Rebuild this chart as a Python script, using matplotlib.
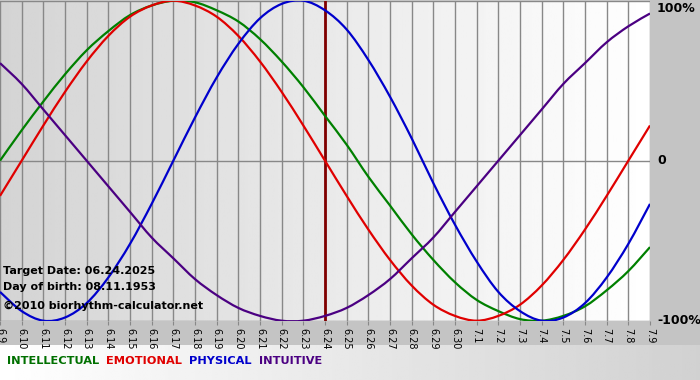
import matplotlib
matplotlib.use("Agg")
import matplotlib.pyplot as plt
from matplotlib.path import Path
from matplotlib.patches import PathPatch
import numpy as np

# day labels, 6.9 .. 7.9
days = ["6.9", "6.10", "6.11", "6.12", "6.13", "6.14", "6.15", "6.16", "6.17",
        "6.18", "6.19", "6.20", "6.21", "6.22", "6.23", "6.24", "6.25", "6.26",
        "6.27", "6.28", "6.29", "6.30", "7.1", "7.2", "7.3", "7.4", "7.5",
        "7.6", "7.7", "7.8", "7.9"]

intellectual = [0.00, 0.19, 0.37, 0.54, 0.69, 0.81, 0.91, 0.97, 1.00, 0.99,
                0.94, 0.87, 0.76, 0.62, 0.46, 0.28, 0.10, -0.10, -0.28, -0.46,
                -0.62, -0.76, -0.87, -0.94, -0.99, -1.00, -0.97, -0.91, -0.81,
                -0.69, -0.54]
emotional = [-0.22, 0.00, 0.22, 0.43, 0.62, 0.78, 0.90, 0.97, 1.00, 0.97,
             0.90, 0.78, 0.62, 0.43, 0.22, 0.00, -0.22, -0.43, -0.62, -0.78,
             -0.90, -0.97, -1.00, -0.97, -0.90, -0.78, -0.62, -0.43, -0.22,
             0.00, 0.22]
physical = [-0.82, -0.94, -1.00, -0.98, -0.89, -0.73, -0.52, -0.27, 0.00, 0.27,
            0.52, 0.73, 0.89, 0.98, 1.00, 0.94, 0.82, 0.63, 0.40, 0.14,
            -0.14, -0.40, -0.63, -0.82, -0.94, -1.00, -0.98, -0.89, -0.73,
            -0.52, -0.27]
intuitive = [0.61, 0.48, 0.32, 0.16, 0.00, -0.16, -0.32, -0.48, -0.61, -0.74,
             -0.84, -0.92, -0.97, -1.00, -1.00, -0.97, -0.92, -0.84, -0.74,
             -0.61, -0.48, -0.32, -0.16, 0.00, 0.16, 0.32, 0.48, 0.61, 0.74,
             0.84, 0.92]

target_idx = 15  # 6.24


def smooth_path(xs, ys):
    # catmull-rom style bezier through the given points
    pts = np.column_stack([xs, ys]).astype(float)
    n = len(pts)
    verts = [pts[0]]
    codes = [Path.MOVETO]
    for i in range(n - 1):
        p0 = pts[max(i - 1, 0)]
        p1 = pts[i]
        p2 = pts[i + 1]
        p3 = pts[min(i + 2, n - 1)]
        verts += [p1 + (p2 - p0) / 6, p2 - (p3 - p1) / 6, p2]
        codes += [Path.CURVE4] * 3
    return Path(verts, codes)


fig = plt.figure(figsize=(7, 3.8), dpi=100, facecolor="#c4c4c4")

# legend strip at the bottom with a light gradient
bg = fig.add_axes([0, 0, 1, 35 / 380])
bg.imshow(np.linspace(1.0, 0.82, 256).reshape(1, -1), cmap="gray", vmin=0, vmax=1,
          aspect="auto", extent=[0, 1, 0, 1])
bg.set_axis_off()

ax = fig.add_axes([0, 1 - 320.7 / 380, 650 / 700, 320 / 380])
x = np.arange(len(days))

# plot background: gray on the left fading to white
ax.imshow(np.linspace(0.83, 1.0, 256).reshape(1, -1), cmap="gray", vmin=0, vmax=1,
          aspect="auto", extent=[0, len(days) - 1, -1, 1], zorder=0)

for i in x:
    ax.axvline(i, color="#888888", lw=1, zorder=1)
for v in (-1, 0, 1):
    ax.axhline(v, color="#888888", lw=1, zorder=1)
ax.axvline(target_idx, color="#800000", lw=2, zorder=3)

series = [(intellectual, "#008000"), (emotional, "#e00000"),
          (physical, "#0000cc"), (intuitive, "#4b0082")]
for vals, col in series:
    ax.add_patch(PathPatch(smooth_path(x, vals), fill=False, edgecolor=col,
                           lw=1.6, zorder=4))

ax.set_xlim(0, len(days) - 1)
ax.set_ylim(-1, 1)
ax.set_xticks(x)
ax.set_xticklabels(days, rotation=270, fontsize=7, va="top", ha="center")
ax.tick_params(axis="x", length=3, color="#888888", pad=2)
ax.set_yticks([])
for s in ax.spines.values():
    s.set_visible(False)

# right side percentages
for ypix, lab in ((8, "100%"), (161, "0"), (321, "-100%")):
    fig.text(657 / 700, 1 - ypix / 380, lab, fontsize=9, fontweight="bold",
             va="center", ha="left")

fig.text(3 / 700, 1 - 271 / 380, "Target Date: 06.24.2025", fontsize=8,
         fontweight="bold", va="center", zorder=5)
fig.text(3 / 700, 1 - 287 / 380, "Day of birth: 08.11.1953", fontsize=8,
         fontweight="bold", va="center", zorder=5)
fig.text(3 / 700, 1 - 306 / 380, "\u00a92010 biorhythm-calculator.net", fontsize=8,
         fontweight="bold", va="center", zorder=5)

# colored legend words
legend = [("INTELLECTUAL", "#007000"), ("EMOTIONAL", "#e00000"),
          ("PHYSICAL", "#0000cc"), ("INTUITIVE", "#4b0082")]
xpos = 7
renderer = fig.canvas.get_renderer()
for word, col in legend:
    t = fig.text(xpos / 700, 1 - 361 / 380, word, color=col, fontsize=8.2,
                 fontweight="bold", va="center", ha="left")
    w = t.get_window_extent(renderer=renderer).width
    xpos += w + 7

fig.savefig("out.png", dpi=100, facecolor=fig.get_facecolor())
